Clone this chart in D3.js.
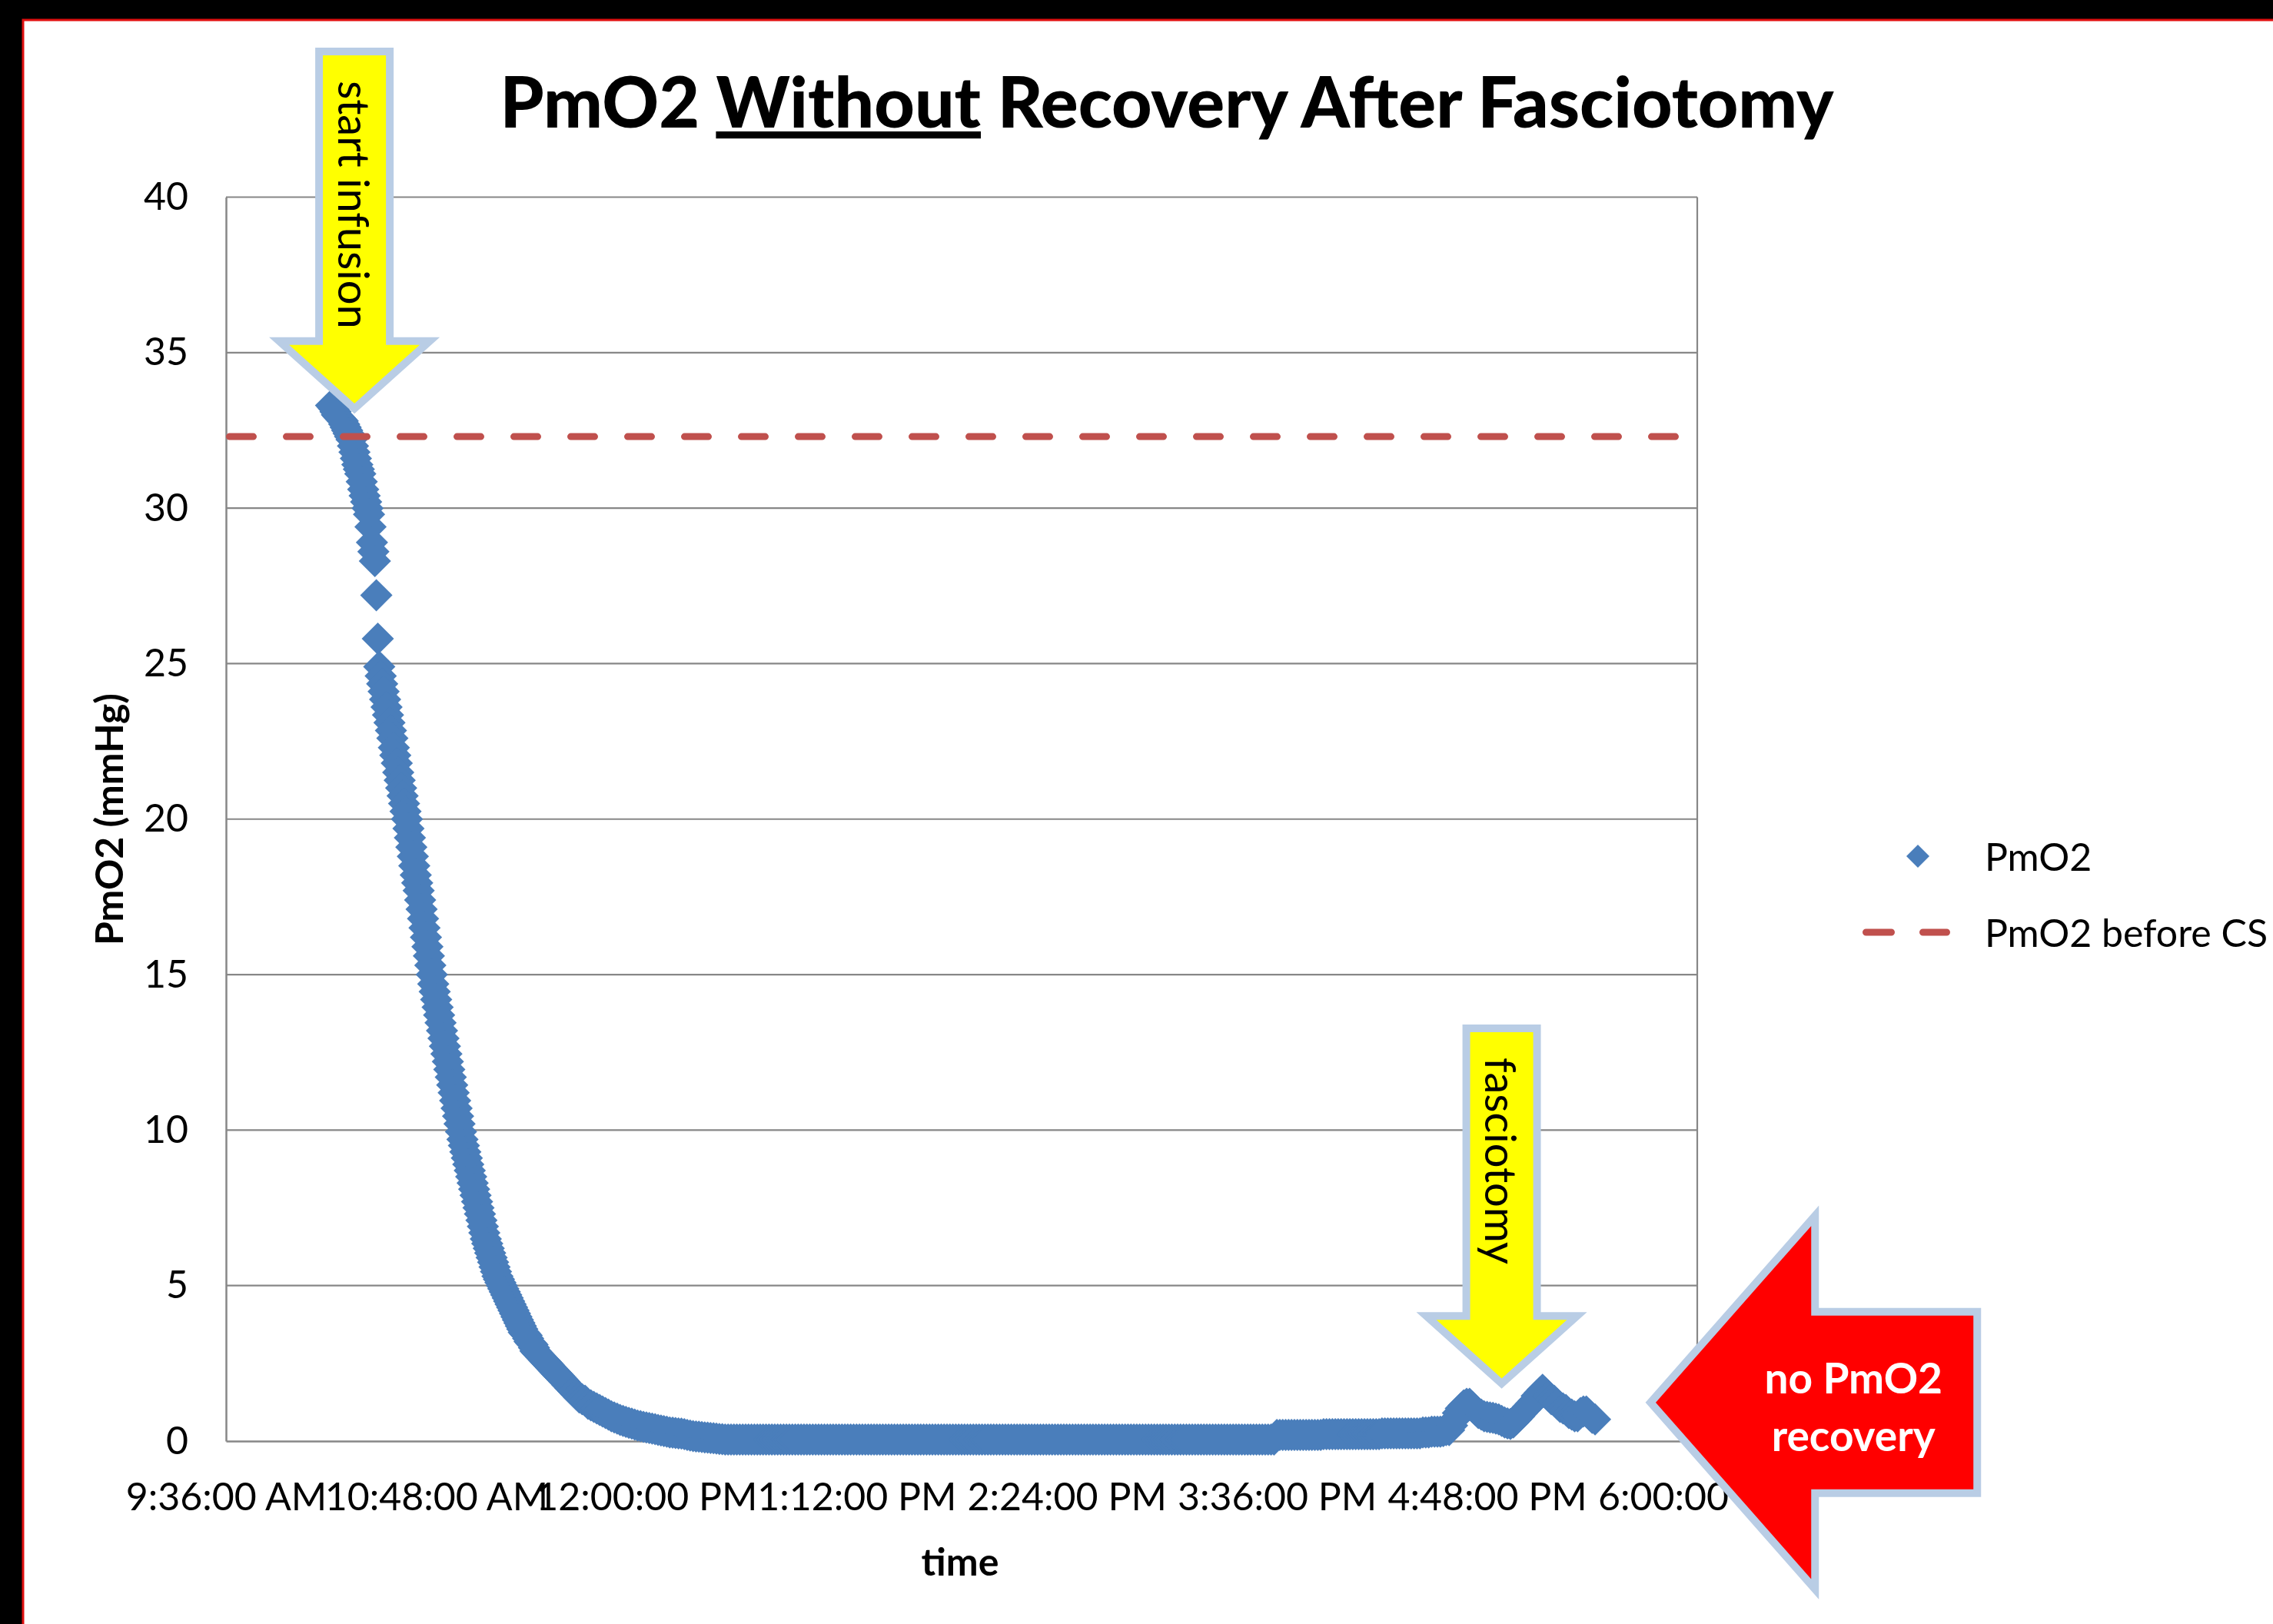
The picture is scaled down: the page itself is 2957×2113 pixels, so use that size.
<!DOCTYPE html>
<html>
<head>
<meta charset="utf-8">
<script src="https://cdnjs.cloudflare.com/ajax/libs/d3/7.8.5/d3.min.js"></script>
<style>
    body { margin: 0; background: #000; }
    svg text { font-family: Lato, "Open Sans", sans-serif; fill: #000; }
</style>
</head>
<body>
<svg id="chart" width="2957" height="2113"></svg>
<script>
// ---- data ----
var yTicks = [0, 5, 10, 15, 20, 25, 30, 35, 40];
var xTickTimes = ["9:36", "10:48", "12:00", "13:12", "14:24", "15:36", "16:48", "18:00"];
var xTickLabels = ["9:36:00 AM", "10:48:00 AM", "12:00:00 PM", "1:12:00 PM", "2:24:00 PM", "3:36:00 PM", "4:48:00 PM", "6:00:00 PM"];

// PmO2 readings during the fall, every 30 s from 10:12
var pmo2FineStart = "10:12";
var pmo2FineStep = 0.5; // minutes
var pmo2FineValues = [
    33.3, 33.25, 33.2, 33.1, 33.0, 32.95, 32.9, 32.85, 32.8, 32.7,       // 10:12
    32.6, 32.5, 32.4, 32.3, 32.2, 32.0, 31.8, 31.6, 31.4, 31.25,         // 10:17
    31.1, 30.85, 30.6, 30.4, 30.2, 30.0, 29.8, 29.4, 28.9, 28.6,         // 10:22
    28.3, 27.2, 25.8, 24.9, 24.6, 24.35, 24.1, 23.85, 23.6, 23.35,       // 10:27
    23.1, 22.85, 22.6, 22.3, 22.05, 21.8, 21.5, 21.25, 21.0, 20.75,      // 10:32
    20.5, 20.25, 20.0, 19.7, 19.4, 19.1, 18.8, 18.5, 18.2, 17.95,        // 10:37
    17.7, 17.4, 17.1, 16.8, 16.5, 16.2, 15.9, 15.6, 15.3, 15.0,          // 10:42
    14.7, 14.45, 14.2, 13.95, 13.7, 13.45, 13.2, 12.95, 12.7, 12.45,     // 10:47
    12.2, 11.95, 11.7, 11.45, 11.2, 10.95, 10.7, 10.45, 10.2, 9.95,      // 10:52
    9.7, 9.5, 9.3, 9.1, 8.9, 8.7, 8.5, 8.3, 8.1, 7.9,                    // 10:57
    7.7, 7.5, 7.3, 7.1, 6.9, 6.7, 6.5, 6.35, 6.2, 6.05,                  // 11:02
    5.9, 5.75, 5.6, 5.45, 5.3, 5.2, 5.1, 5.0, 4.9, 4.8,                  // 11:07
    4.7, 4.6, 4.5, 4.4, 4.3, 4.2, 4.1, 4.0, 3.9, 3.8,                    // 11:12
    3.7, 3.6, 3.5, 3.45, 3.4, 3.3, 3.2, 3.15, 3.1, 3.0,                  // 11:17
    2.9, 2.85, 2.8, 2.75, 2.7, 2.65, 2.6, 2.55, 2.5, 2.45,               // 11:22
    2.4, 2.35, 2.3, 2.25, 2.2, 2.15, 2.1, 2.05, 2.0, 1.95                // 11:27
];

// PmO2 readings afterwards, one per minute from 11:32
var pmo2Start = "11:32";
var pmo2Step = 1; // minutes
var pmo2Values = [
    1.9, 1.8, 1.7, 1.6, 1.5, 1.4, 1.35, 1.3, 1.2, 1.15,           // 11:32
    1.1, 1.05, 1.0, 0.95, 0.9, 0.85, 0.8, 0.76, 0.72, 0.68,       // 11:42
    0.65, 0.62, 0.59, 0.56, 0.53, 0.5, 0.48, 0.46, 0.44, 0.42,    // 11:52
    0.4, 0.38, 0.36, 0.34, 0.32, 0.3, 0.28, 0.27, 0.26, 0.25,     // 12:02
    0.24, 0.22, 0.2, 0.18, 0.16, 0.15, 0.14, 0.13, 0.12, 0.11,    // 12:12
    0.1, 0.09, 0.08, 0.07, 0.06, 0.05, 0.05, 0.05, 0.05, 0.05,    // 12:22
    0.05, 0.05, 0.05, 0.05, 0.05, 0.05, 0.05, 0.05, 0.05, 0.05,   // 12:32
    0.05, 0.05, 0.05, 0.05, 0.05, 0.05, 0.05, 0.05, 0.05, 0.05,
    0.05, 0.05, 0.05, 0.05, 0.05, 0.05, 0.05, 0.05, 0.05, 0.05,
    0.05, 0.05, 0.05, 0.05, 0.05, 0.05, 0.05, 0.05, 0.05, 0.05,
    0.05, 0.05, 0.05, 0.05, 0.05, 0.05, 0.05, 0.05, 0.05, 0.05,
    0.05, 0.05, 0.05, 0.05, 0.05, 0.05, 0.05, 0.05, 0.05, 0.05,   // 13:22
    0.05, 0.05, 0.05, 0.05, 0.05, 0.05, 0.05, 0.05, 0.05, 0.05,
    0.05, 0.05, 0.05, 0.05, 0.05, 0.05, 0.05, 0.05, 0.05, 0.05,
    0.05, 0.05, 0.05, 0.05, 0.05, 0.05, 0.05, 0.05, 0.05, 0.05,
    0.05, 0.05, 0.05, 0.05, 0.05, 0.05, 0.05, 0.05, 0.05, 0.05,
    0.05, 0.05, 0.05, 0.05, 0.05, 0.05, 0.05, 0.05, 0.05, 0.05,   // 14:12
    0.05, 0.05, 0.05, 0.05, 0.05, 0.05, 0.05, 0.05, 0.05, 0.05,
    0.05, 0.05, 0.05, 0.05, 0.05, 0.05, 0.05, 0.05, 0.05, 0.05,
    0.05, 0.05, 0.05, 0.05, 0.05, 0.05, 0.05, 0.05, 0.05, 0.05,
    0.05, 0.05, 0.05, 0.05, 0.05, 0.05, 0.05, 0.05, 0.05, 0.05,
    0.05, 0.05, 0.05, 0.05, 0.05, 0.05, 0.05, 0.05, 0.05, 0.05,
    0.05, 0.05, 0.05, 0.05, 0.05, 0.05, 0.05, 0.05, 0.05, 0.05,
    0.05, 0.05, 0.05, 0.05, 0.05, 0.05, 0.05, 0.05, 0.05, 0.05,   // 15:22
    0.05, 0.05, 0.05, 0.05, 0.2, 0.2, 0.2, 0.2, 0.2, 0.2,         // 15:32
    0.2, 0.2, 0.2, 0.2, 0.2, 0.2, 0.2, 0.2, 0.2, 0.2,             // 15:42
    0.22, 0.22, 0.22, 0.22, 0.22, 0.22, 0.22, 0.22, 0.22, 0.22,   // 15:52
    0.22, 0.22, 0.22, 0.22, 0.22, 0.22, 0.22, 0.22, 0.22, 0.22,   // 16:02
    0.25, 0.25, 0.25, 0.25, 0.25, 0.25, 0.25, 0.25, 0.25, 0.25,   // 16:12
    0.25, 0.25, 0.25, 0.25, 0.28, 0.28, 0.28, 0.3, 0.3, 0.3,      // 16:22
    0.3, 0.32, 0.35, 0.35, 0.5, 0.7, 0.9, 1.05, 1.15, 1.2,        // 16:32
    1.2, 1.1, 1.0, 0.9, 0.85, 0.8, 0.78, 0.76, 0.75, 0.72,        // 16:42
    0.7, 0.65, 0.6, 0.57, 0.55, 0.6, 0.7, 0.8, 0.9, 1.0,          // 16:52
    1.1, 1.2, 1.3, 1.45, 1.55, 1.65, 1.55, 1.45, 1.35, 1.3,       // 17:02
    1.2, 1.1, 1.05, 1.0, 0.9, 0.85, 0.8, 0.8, 0.9, 0.95,          // 17:12
    0.95, 0.85, 0.75, 0.7                                         // 17:22
];

// PmO2 before compartment syndrome (reference level)
var baselineTimes = ["9:36", "17:55"];
var baselineValues = [32.3, 32.3];

var seriesNames = ["PmO2", "PmO2 before CS"];

// callouts: arrow tip placed at (time, value)
var noteLabels = ["start infusion", "fasciotomy"];
var noteTimes = ["10:20", "16:53"];
var noteValues = [33.2, 1.85];
var verdictLines = ["no PmO2", "recovery"];
var verdictTime = "17:44";
var verdictValue = 1.24;

// ---- helpers ----
function toMin(s) {
    var p = s.split(":");
    return +p[0] * 60 + +p[1];
}

var blue = "#4A7EBB", red = "#C0504D", gridColor = "#878787", calloutBorder = "#B9CDE5";

var svg = d3.select("#chart");

// slide panel
svg.append("rect")
    .attr("x", 30).attr("y", 26)
    .attr("width", 2960).attr("height", 2120)
    .attr("fill", "#fff")
    .attr("stroke", "#e01010")
    .attr("stroke-width", 3);

var plotLeft = 294, plotRight = 2208, plotTop = 256.5, plotBottom = 1875;

var x = d3.scaleLinear()
    .domain([toMin(xTickTimes[0]), toMin(xTickTimes[xTickTimes.length - 1])])
    .range([plotLeft, plotRight]);
var y = d3.scaleLinear()
    .domain([0, 40])
    .range([plotBottom, plotTop]);

// gridlines
svg.append("g")
    .selectAll("line")
    .data(yTicks.filter(function (d) { return d > 0; }))
    .enter()
    .append("line")
    .attr("x1", plotLeft).attr("x2", plotRight)
    .attr("y1", function (d) { return y(d); })
    .attr("y2", function (d) { return y(d); })
    .attr("stroke", gridColor)
    .attr("stroke-width", 2.2);

// right border of plot area
svg.append("line")
    .attr("x1", plotRight).attr("x2", plotRight)
    .attr("y1", plotTop).attr("y2", plotBottom)
    .attr("stroke", gridColor)
    .attr("stroke-width", 2.2);

// y axis
var yAxis = svg.append("g")
    .attr("transform", "translate(" + plotLeft + ",0)")
    .call(d3.axisLeft(y).tickValues(yTicks).tickSize(0).tickSizeOuter(0).tickPadding(49));
yAxis.select(".domain").attr("stroke", gridColor).attr("stroke-width", 2.5);
yAxis.selectAll("text")
    .style("font-family", "Lato, 'Open Sans', sans-serif")
    .style("font-size", "50px")
    .attr("fill", "#000");

// x axis
var xAxis = svg.append("g")
    .attr("transform", "translate(0," + plotBottom + ")")
    .call(d3.axisBottom(x)
        .tickValues(xTickTimes.map(toMin))
        .tickFormat(function (d, i) { return xTickLabels[i]; })
        .tickSize(0).tickSizeOuter(0).tickPadding(54));
xAxis.select(".domain").attr("stroke", gridColor).attr("stroke-width", 2.5);
xAxis.selectAll("text")
    .style("font-family", "Lato, 'Open Sans', sans-serif")
    .style("font-size", "50px")
    .attr("fill", "#000");

// PmO2 markers
var diamond = "M0,-21L21,0L0,21L-21,0Z";
function readings(start, step, values) {
    var t0 = toMin(start);
    return values.map(function (v, i) { return { t: t0 + i * step, v: v }; });
}
var pmo2 = readings(pmo2FineStart, pmo2FineStep, pmo2FineValues)
    .concat(readings(pmo2Start, pmo2Step, pmo2Values));

svg.append("g")
    .selectAll("path")
    .data(pmo2)
    .enter()
    .append("path")
    .attr("d", diamond)
    .attr("transform", function (d) {
        return "translate(" + x(d.t) + "," + y(d.v) + ")";
    })
    .attr("fill", blue);

// PmO2 before CS dashed line
svg.append("line")
    .attr("x1", x(toMin(baselineTimes[0])) + 4.5)
    .attr("x2", x(toMin(baselineTimes[1])))
    .attr("y1", y(baselineValues[0]))
    .attr("y2", y(baselineValues[1]))
    .attr("stroke", red)
    .attr("stroke-width", 9)
    .attr("stroke-linecap", "round")
    .attr("stroke-dasharray", "31,43");

// title
var title = svg.append("text")
    .attr("x", 1518).attr("y", 166)
    .attr("text-anchor", "middle")
    .attr("textLength", 1735)
    .attr("lengthAdjust", "spacingAndGlyphs")
    .style("font-size", "92px")
    .style("font-weight", "900")
    .style("white-space", "pre");
title.append("tspan").text("PmO2 ");
title.append("tspan").text("Without").style("text-decoration", "underline");
title.append("tspan").text(" Recovery After Fasciotomy");

// axis titles
svg.append("text")
    .attr("x", 1249).attr("y", 2031)
    .attr("text-anchor", "middle")
    .attr("dominant-baseline", "central")
    .style("font-size", "50px")
    .style("font-weight", "bold")
    .text("time");

svg.append("text")
    .attr("transform", "translate(141,1066) rotate(-90)")
    .attr("text-anchor", "middle")
    .attr("dominant-baseline", "central")
    .style("font-size", "50px")
    .style("font-weight", "bold")
    .text("PmO2 (mmHg)");

// legend
var legend = svg.append("g");
legend.append("path")
    .attr("d", "M0,-15L15,0L0,15L-15,0Z")
    .attr("transform", "translate(2495,1114)")
    .attr("fill", blue);
legend.append("line")
    .attr("x1", 2427.5).attr("x2", 2532.5)
    .attr("y1", 1213).attr("y2", 1213)
    .attr("stroke", red)
    .attr("stroke-width", 9)
    .attr("stroke-linecap", "round")
    .attr("stroke-dasharray", "33,41");
legend.selectAll("text")
    .data(seriesNames)
    .enter()
    .append("text")
    .attr("x", 2582)
    .attr("y", function (d, i) { return 1114 + i * 99; })
    .attr("dominant-baseline", "central")
    .style("font-size", "50px")
    .text(function (d) { return d; });

// yellow down arrows
function downArrow(tx, ty, shaftTop) {
    var sh = 46, hh = 98, hl = 88;
    return [
        [tx - sh, shaftTop], [tx + sh, shaftTop], [tx + sh, ty - hl], [tx + hh, ty - hl],
        [tx, ty], [tx - hh, ty - hl], [tx - sh, ty - hl]
    ].map(function (p) { return p.join(","); }).join(" ");
}

var shaftTops = [67, 1338];
noteLabels.forEach(function (label, i) {
    var tx = x(toMin(noteTimes[i])), ty = y(noteValues[i]);
    var g = svg.append("g");
    g.append("polygon")
        .attr("points", downArrow(tx, ty, shaftTops[i]))
        .attr("fill", "#FFFF00")
        .attr("stroke", calloutBorder)
        .attr("stroke-width", 10)
        .attr("stroke-linejoin", "miter");
    g.append("text")
        .attr("transform", "translate(" + tx + "," + (shaftTops[i] + 38) + ") rotate(90)")
        .attr("dominant-baseline", "central")
        .style("font-size", "56px")
        .text(label);
});

// red left arrow
(function () {
    var tx = x(toMin(verdictTime)), ty = y(verdictValue);
    var back = tx + 214, tail = tx + 425, hh = 243, sh = 118;
    var pts = [
        [tx, ty], [back, ty - hh], [back, ty - sh], [tail, ty - sh],
        [tail, ty + sh], [back, ty + sh], [back, ty + hh]
    ].map(function (p) { return p.join(","); }).join(" ");
    var g = svg.append("g");
    g.append("polygon")
        .attr("points", pts)
        .attr("fill", "#FF0000")
        .attr("stroke", calloutBorder)
        .attr("stroke-width", 10)
        .attr("stroke-linejoin", "miter");
    g.selectAll("text")
        .data(verdictLines)
        .enter()
        .append("text")
        .attr("x", tx + 264)
        .attr("y", function (d, i) { return ty - 33 + i * 75; })
        .attr("text-anchor", "middle")
        .attr("dominant-baseline", "central")
        .style("font-size", "55px")
        .style("font-weight", "bold")
        .style("fill", "#fff")
        .text(function (d) { return d; });
})();
</script>
</body>
</html>
